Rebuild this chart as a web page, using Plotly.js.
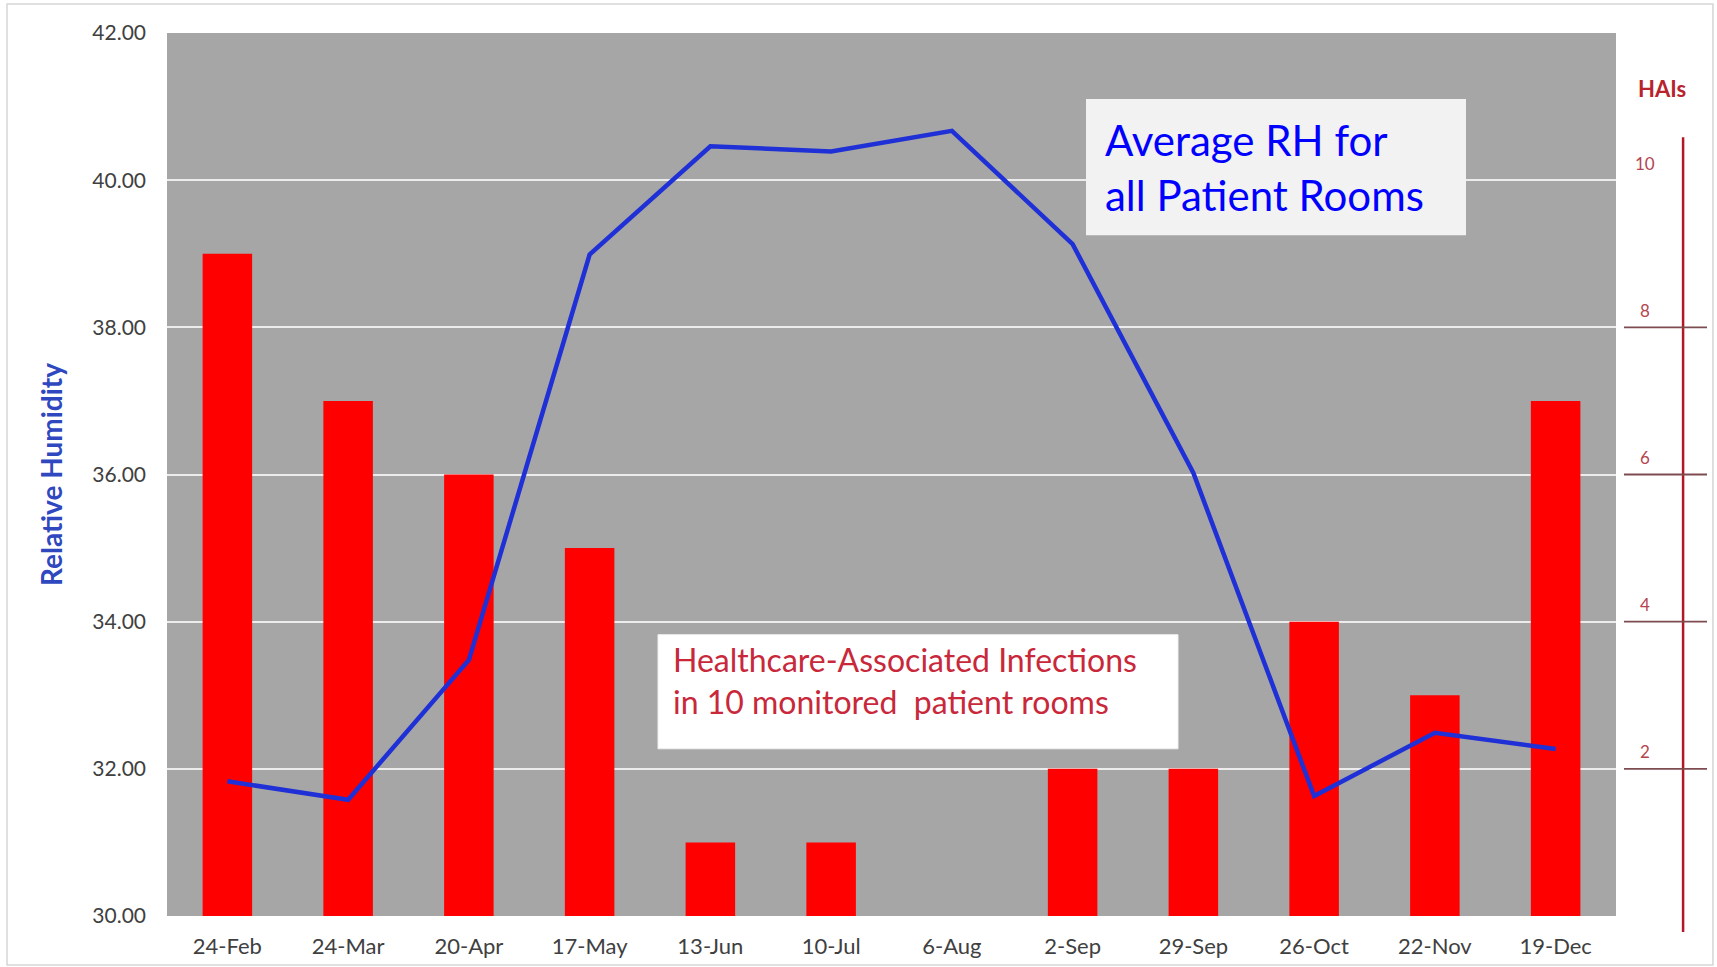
<!DOCTYPE html>
<html>
<head>
<meta charset="utf-8">
<script src="https://cdn.plot.ly/plotly-3.0.1.min.js"></script>
<style>
  html, body { margin: 0; padding: 0; background: #ffffff; }
  #chart { width: 1717px; height: 967px; }
</style>
</head>
<body>
<div id="chart"></div>
<script>
// ---- data ----
const dates = ['24-Feb','24-Mar','20-Apr','17-May','13-Jun','10-Jul','6-Aug','2-Sep','29-Sep','26-Oct','22-Nov','19-Dec'];
const hais = [9, 7, 6, 5, 1, 1, 0, 2, 2, 4, 3, 7];
const avgRH = [31.83, 31.58, 33.48, 38.99, 40.46, 40.39, 40.67, 39.13, 36.02, 31.63, 32.49, 32.27];
const rhTicks = [30, 32, 34, 36, 38, 40, 42];
const rhTickText = ['30.00','32.00','34.00','36.00','38.00','40.00','42.00'];
const haiTickMarks = [2, 4, 6, 8];
const haiTickLabels = [2, 4, 6, 8, 10];

const FONT = 'Lato, "Open Sans", "DejaVu Sans", sans-serif';

const traces = [
  {
    type: 'bar',
    x: dates,
    y: hais,
    yaxis: 'y',
    marker: { color: '#ff0000', line: { width: 0 } },
    width: 0.41,
    name: 'HAIs',
    hoverinfo: 'x+y'
  },
  {
    type: 'scatter',
    mode: 'lines',
    x: dates,
    y: avgRH,
    yaxis: 'y2',
    line: { color: '#1f30d6', width: 4.5 },
    name: 'Average RH',
    hoverinfo: 'x+y'
  }
];

// right-hand (HAIs) decorative axis
const shapes = [
  // outer frame
  { type: 'rect', xref: 'paper', yref: 'paper', x0: -0.1104, x1: 1.0669, y0: -0.0556, y1: 1.0329,
    line: { color: '#d6d6d6', width: 1.5 }, fillcolor: 'rgba(0,0,0,0)', layer: 'below' },
  // vertical HAIs axis line
  { type: 'line', xref: 'paper', yref: 'paper', x0: 1.0463, x1: 1.0463, y0: -0.018, y1: 0.882,
    line: { color: '#b0182a', width: 2.5 }, layer: 'above' },
  // Average RH box
  { type: 'rect', xref: 'paper', yref: 'paper',
    x0: (1086 - 167) / 1449, x1: (1466 - 167) / 1449,
    y0: (916 - 236) / 882, y1: (916 - 100) / 882,
    fillcolor: '#f2f2f2', line: { width: 0 }, layer: 'above' },
  // HAI text box
  { type: 'rect', xref: 'paper', yref: 'paper',
    x0: (658 - 167) / 1449, x1: (1178 - 167) / 1449,
    y0: (916 - 749) / 882, y1: (916 - 635) / 882,
    fillcolor: '#ffffff', line: { color: '#eeeeee', width: 1 }, layer: 'above' }
];
haiTickMarks.forEach(v => {
  shapes.push({ type: 'line', xref: 'paper', yref: 'y', x0: 1.0055, x1: 1.0628, y0: v, y1: v,
    line: { color: '#7d4b50', width: 1.8 }, layer: 'above' });
});

const annotations = [
  { xref: 'paper', yref: 'paper', x: (1103 - 167) / 1449, y: (916 - 168) / 882,
    xanchor: 'left', yanchor: 'middle', align: 'left', showarrow: false,
    text: 'Average RH for<br>all Patient Rooms',
    font: { family: FONT, size: 42, color: '#0000ff' } },
  { xref: 'paper', yref: 'paper', x: (671 - 167) / 1449, y: (916 - 681) / 882,
    xanchor: 'left', yanchor: 'middle', align: 'left', showarrow: false,
    text: 'Healthcare-Associated Infections<br>in 10 monitored  patient rooms',
    font: { family: FONT, size: 32, color: '#c8283a' } },
  { xref: 'paper', yref: 'paper', x: (1662 - 167) / 1449, y: (916 - 89) / 882,
    xanchor: 'center', yanchor: 'middle', showarrow: false,
    text: '<b>HAIs</b>',
    font: { family: FONT, size: 22, color: '#b8242e' } }
];
haiTickLabels.forEach(v => {
  annotations.push({ xref: 'paper', yref: 'y', x: (1645 - 167) / 1449, y: v, yshift: 17,
    xanchor: 'center', yanchor: 'middle', showarrow: false, text: String(v),
    font: { family: FONT, size: 17, color: '#b4454f' } });
});

const layout = {
  width: 1717,
  height: 967,
  margin: { l: 167, r: 101, t: 33, b: 51, pad: 0 },
  paper_bgcolor: '#ffffff',
  plot_bgcolor: '#a6a6a6',
  showlegend: false,
  bargap: 0.59,
  font: { family: FONT, color: '#404040' },
  xaxis: {
    type: 'category',
    categoryorder: 'array',
    categoryarray: dates,
    showgrid: false,
    zeroline: false,
    showline: false,
    ticks: '',
    ticklabelstandoff: 15,
    tickfont: { family: FONT, size: 22, color: '#404040' }
  },
  yaxis: {
    range: [0, 12],
    visible: false,
    fixedrange: true
  },
  yaxis2: {
    overlaying: 'y',
    side: 'left',
    range: [30, 42],
    tickmode: 'array',
    tickvals: rhTicks,
    ticktext: rhTickText,
    showgrid: true,
    gridcolor: '#ececec',
    gridwidth: 2,
    zeroline: false,
    showline: false,
    ticks: '',
    ticklabelstandoff: 20,
    tickfont: { family: FONT, size: 21, color: '#404040' },
    title: { text: '<b>Relative Humidity</b>', standoff: 21,
      font: { family: FONT, size: 28, color: '#2f48c0' } }
  },
  shapes: shapes,
  annotations: annotations
};

Plotly.newPlot('chart', traces, layout, { displayModeBar: false, staticPlot: true });
</script>
</body>
</html>
